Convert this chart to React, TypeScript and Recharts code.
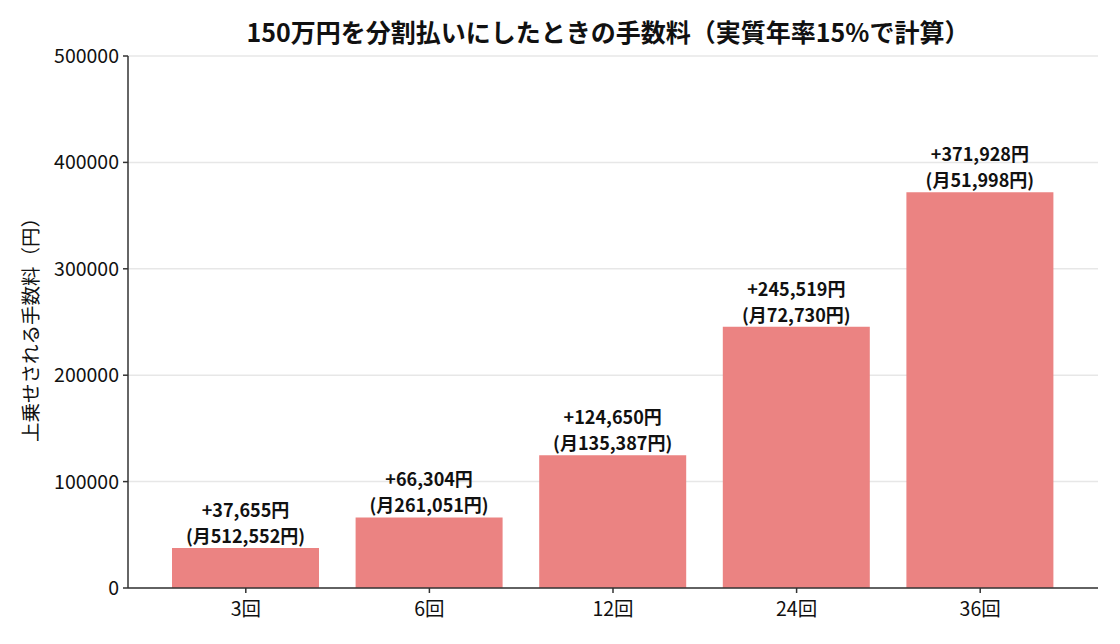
import { Bar, BarChart, CartesianGrid, LabelList, XAxis, YAxis } from 'recharts';

const categories = ['3回', '6回', '12回', '24回', '36回'];
const fees = [37655, 66304, 124650, 245519, 371928];
const monthly = [512552, 261051, 135387, 72730, 51998];
const yTicks = [0, 100000, 200000, 300000, 400000, 500000];

const data = categories.map((label, i) => ({ label, fee: fees[i], monthly: monthly[i] }));

const FONT = '"Noto Sans CJK JP", "Noto Sans", sans-serif';
const AXIS = '#333333';

const fmt = (v: number) => v.toLocaleString('en-US');

// two-line label above each bar: total fee, then monthly payment
function FeeLabel(props: any) {
  const { x, y, width, index } = props;
  const cx = Number(x) + Number(width) / 2;
  const top = Number(y);
  const common = {
    x: cx,
    textAnchor: 'middle' as const,
    fontFamily: FONT,
    fontWeight: 700,
    fontSize: 18,
    fill: '#111',
  };
  return (
    <g>
      <text {...common} y={top - 31}>{`+${fmt(fees[index])}円`}</text>
      <text {...common} y={top - 5}>{`(月${fmt(monthly[index])}円)`}</text>
    </g>
  );
}

export default function App() {
  return (
    <div style={{ position: 'absolute', left: 0, top: 0, width: 1120, height: 644, background: '#fff' }}>
      <BarChart
        width={1120}
        height={644}
        data={data}
        margin={{ top: 56, right: 22, bottom: 0, left: 0 }}
      >
        <text
          x={608}
          y={42}
          textAnchor="middle"
          fontFamily={FONT}
          fontWeight={700}
          fontSize={25}
          fill="#111"
        >
          150万円を分割払いにしたときの手数料（実質年率15%で計算）
        </text>
        <text
          x={38}
          y={325}
          transform="rotate(-90 38 325)"
          textAnchor="middle"
          fontFamily={FONT}
          fontSize={19.5}
          fill="#111"
        >
          上乗せされる手数料（円）
        </text>
        <XAxis
          dataKey="label"
          height={56}
          padding={{ left: 26, right: 26 }}
          tick={{ fill: '#111', fontSize: 19.5, fontFamily: FONT }}
          tickSize={5}
          tickMargin={9}
          axisLine={{ stroke: AXIS, strokeWidth: 1.5 }}
          tickLine={{ stroke: AXIS, strokeWidth: 1.5 }}
        />
        <YAxis
          width={128}
          domain={[0, 500000]}
          ticks={yTicks}
          interval={0}
          tick={{ fill: '#111', fontSize: 19.5, fontFamily: FONT }}
          tickSize={5}
          tickMargin={4}
          axisLine={{ stroke: AXIS, strokeWidth: 1.5 }}
          tickLine={{ stroke: AXIS, strokeWidth: 1.5 }}
        />
        <Bar dataKey="fee" fill="#eb8382" barSize={147} isAnimationActive={false}>
          <LabelList dataKey="fee" content={<FeeLabel />} />
        </Bar>
        <CartesianGrid vertical={false} stroke="#b0b0b0" strokeOpacity={0.3} strokeWidth={1.5} />
      </BarChart>
    </div>
  );
}
